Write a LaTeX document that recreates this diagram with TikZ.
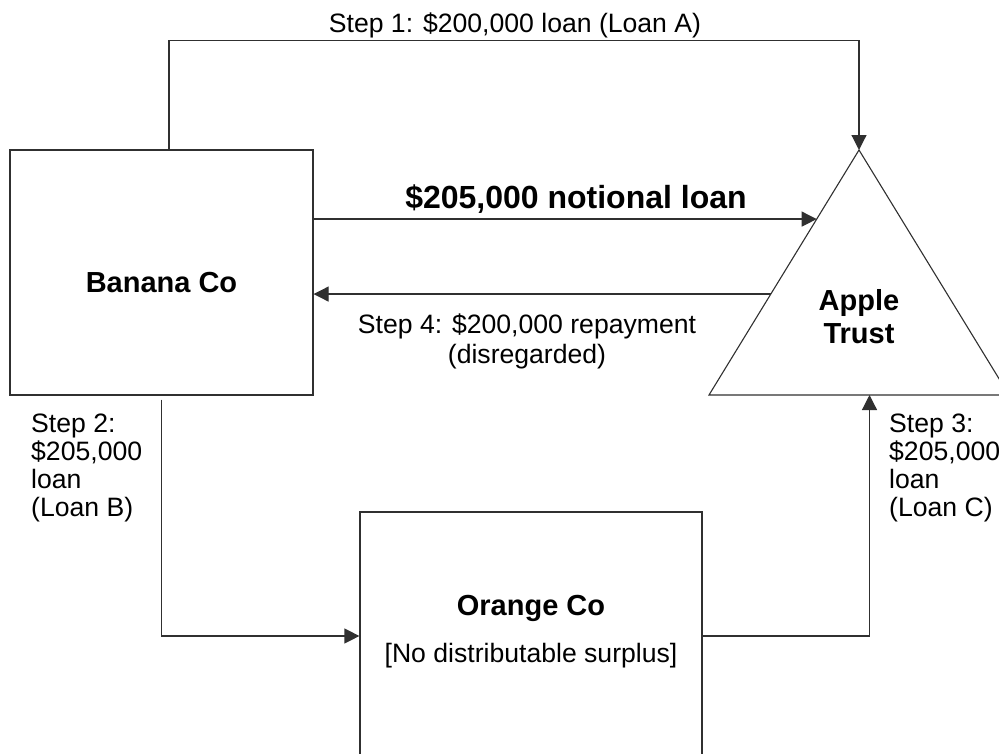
\documentclass[tikz,border=0pt]{standalone}
\usepackage{fontspec}
\setmainfont{Liberation Sans}
\usepackage{tikz}
\usetikzlibrary{arrows.meta,positioning,calc}
\definecolor{Frame}{HTML}{303030}

\begin{document}
\begin{tikzpicture}[x=1pt,y=-1pt,
  party/.style={draw=Frame,line width=1.2pt,inner sep=0pt},
  title/.style={inner sep=0pt,font=\fontsize{29}{33}\selectfont\bfseries,align=center},
  note/.style={inner sep=0pt,font=\fontsize{26.6}{28}\selectfont},
  arrow/.style={-{Triangle[length=15pt,width=15pt]},line width=1.2pt,draw=Frame}
]
\useasboundingbox (0,0) rectangle (999,753);
% companies
\node[party,minimum width=303pt,minimum height=245pt] (banana) at (161.5,272.5) {};
\node[title,anchor=base] (banananame) at (161.5,292.5) {Banana Co};
\node[party,minimum width=342pt,minimum height=288pt] (orange) at (531,656) {};
\node[title,anchor=base] (orangename) at (531,615.5) {Orange Co};
\node[note,anchor=base] (orangenote) at (531,662.5) {[No distributable surplus]};
% trust
\coordinate (apex) at (859,150);
\coordinate (baseL) at (709,395);
\coordinate (baseR) at (1009,395);
\draw[Frame,line width=1.1pt] (apex) -- (baseL) -- (baseR) -- cycle;
\node[title,anchor=north] (trust) at (859,289) {Apple\\Trust};
% steps
\node[note,anchor=base] (stepone) at (515,32) {Step 1: \$200,000 loan (Loan A)};
\node[title,font=\fontsize{32}{36}\selectfont\bfseries,anchor=base] (notionalname) at (576,208) {\$205,000 notional loan};
\node[note,anchor=north,align=center,font=\fontsize{26.6}{30}\selectfont] (stepfour) at (527,314) {Step 4: \$200,000 repayment\\(disregarded)};
\node[note,anchor=north west,align=left] (steptwo) at (31,413.5) {Step 2:\\\$205,000\\loan\\(Loan B)};
\node[note,anchor=north west,align=left] (stepthree) at (889,413.5) {Step 3:\\\$205,000\\loan\\(Loan C)};
% flows
\coordinate (notional) at ($(apex)!0.282!(baseL)$);
\coordinate (repay) at ($(apex)!0.588!(baseL)$);
\coordinate (loanc) at ($(baseL)!0.535!(baseR)$);
\draw[arrow] ([xshift=7.5pt]banana.north) -- ++(0,-109) -| (apex);
\draw[arrow] (banana.east |- notional) -- (notional);
\draw[arrow] (repay) -- (banana.east |- repay);
\draw[arrow] ([yshift=-4pt]banana.south) |- ([yshift=20pt]orange.west);
\draw[arrow] ([yshift=20pt]orange.east) -| (loanc);
\end{tikzpicture}
\end{document}
